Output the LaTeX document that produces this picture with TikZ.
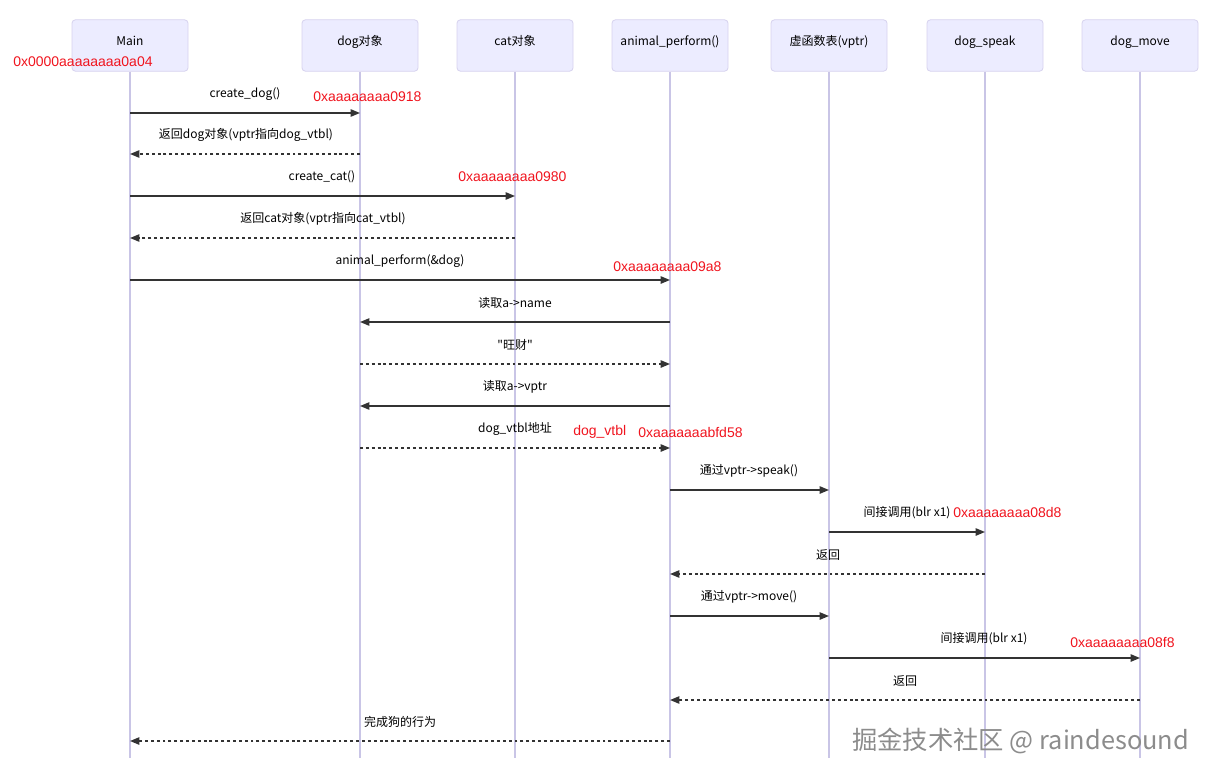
\documentclass[tikz,border=0pt]{standalone}
\usepackage{fontspec}
\setmainfont{Noto Sans CJK SC}
\newfontfamily\cjkplain{Noto Sans CJK SC}
\newfontfamily\redfont{Liberation Sans}
\usetikzlibrary{arrows.meta}
\definecolor{actorfill}{HTML}{ECECFF}
\definecolor{actorline}{HTML}{D6D2EE}
\definecolor{lifeline}{HTML}{C9C5E6}
\definecolor{msgcol}{HTML}{333333}
\definecolor{addrred}{HTML}{F0141E}
\definecolor{wmark}{HTML}{8C8C8C}
\begin{document}
\begin{tikzpicture}[x=0.75pt,y=-0.75pt,
  actor/.style={draw=actorline,fill=actorfill,rounded corners=2.5pt,line width=0.6pt,
    minimum width=87pt,minimum height=38.5pt,inner sep=0pt,
    text height=7pt,text depth=7pt,
    font=\fontsize{9}{11}\selectfont,text=black},
  life/.style={draw=lifeline,line width=1.1pt},
  call/.style={draw=msgcol,line width=1.1pt,-{Triangle[length=7pt,width=5.5pt]}},
  ret/.style={draw=msgcol,line width=1.1pt,dash pattern=on 2.2pt off 2.2pt,-{Triangle[length=7pt,width=5.5pt]}},
  lbl/.style={font=\fontsize{9}{11}\selectfont,text=black,inner sep=0pt},
  addr/.style={font=\redfont\fontsize{10.5}{12}\selectfont,text=addrred,inner sep=0pt,anchor=west},
]
\useasboundingbox (0,0) rectangle (1212,778);
% participants
\node[actor] (Main) at (130,45.5) {Main};
\node[actor] (Dog) at (360,45.5) {dog对象};
\node[actor] (Cat) at (515,45.5) {cat对象};
\node[actor] (Ani) at (670,45.5) {animal\_perform()};
\node[actor] (Vt) at (829,45.5) {虚函数表(vptr)};
\node[actor] (Spk) at (985,45.5) {dog\_speak};
\node[actor] (Mov) at (1140,45.5) {dog\_move};
% lifeline ends
\foreach \n in {Main,Dog,Cat,Ani,Vt,Spk,Mov}{
  \coordinate (\n-end) at (\n.south |- {(0,758)});
  \draw[life] (\n.south) -- (\n-end);
}
% messages
\draw[call] (Main.south |- {(0,113)}) -- (Dog.south |- {(0,113)});
\node[lbl] at (245,94) {create\_dog()};
\draw[ret] (Dog.south |- {(0,154)}) -- (Main.south |- {(0,154)});
\node[lbl] at (246,135) {返回dog对象(vptr指向dog\_vtbl)};
\draw[call] (Main.south |- {(0,196)}) -- (Cat.south |- {(0,196)});
\node[lbl] at (322,177) {create\_cat()};
\draw[ret] (Cat.south |- {(0,238)}) -- (Main.south |- {(0,238)});
\node[lbl] at (323,219) {返回cat对象(vptr指向cat\_vtbl)};
\draw[call] (Main.south |- {(0,280)}) -- (Ani.south |- {(0,280)});
\node[lbl] at (400,261) {animal\_perform(\&dog)};
\draw[call] (Ani.south |- {(0,322)}) -- (Dog.south |- {(0,322)});
\node[lbl] at (515,303) {读取a->name};
\draw[ret] (Dog.south |- {(0,364)}) -- (Ani.south |- {(0,364)});
\node[lbl] at (515,345) {{\cjkplain"}旺财{\cjkplain"}};
\draw[call] (Ani.south |- {(0,406)}) -- (Dog.south |- {(0,406)});
\node[lbl] at (515,387) {读取a->vptr};
\draw[ret] (Dog.south |- {(0,448)}) -- (Ani.south |- {(0,448)});
\node[lbl] at (515,429) {dog\_vtbl地址};
\draw[call] (Ani.south |- {(0,490)}) -- (Vt.south |- {(0,490)});
\node[lbl] at (749,471) {通过vptr->speak()};
\draw[call] (Vt.south |- {(0,532)}) -- (Spk.south |- {(0,532)});
\node[lbl] at (907,513) {间接调用(blr x1)};
\draw[ret] (Spk.south |- {(0,574)}) -- (Ani.south |- {(0,574)});
\node[lbl] at (828,555) {返回};
\draw[call] (Ani.south |- {(0,616)}) -- (Vt.south |- {(0,616)});
\node[lbl] at (749,597) {通过vptr->move()};
\draw[call] (Vt.south |- {(0,658)}) -- (Mov.south |- {(0,658)});
\node[lbl] at (984,639) {间接调用(blr x1)};
\draw[ret] (Mov.south |- {(0,700)}) -- (Ani.south |- {(0,700)});
\node[lbl] at (905,681) {返回};
\draw[ret] (Ani.south |- {(0,741)}) -- (Main.south |- {(0,741)});
\node[lbl] at (400,722) {完成狗的行为};
% red address annotations
\node[addr] (a0) at (13,62) {0x0000aaaaaaaa0a04};
\node[addr] (a1) at (313,97) {0xaaaaaaaa0918};
\node[addr] (a2) at (458,177) {0xaaaaaaaa0980};
\node[addr] (a3) at (613,267) {0xaaaaaaaa09a8};
\node[addr] (a4) at (573,432) {dog\_vtbl};
\node[addr] (a5) at (638,432) {0xaaaaaaabfd58};
\node[addr] (a6) at (953,512) {0xaaaaaaaa08d8};
\node[addr] (a7) at (1070,642) {0xaaaaaaaa08f8};
% watermark
\node[font=\fontsize{19}{22}\selectfont,text=wmark,anchor=west,inner sep=0pt] (wm) at (852,741) {掘金技术社区 @ raindesound};
\end{tikzpicture}
\end{document}
